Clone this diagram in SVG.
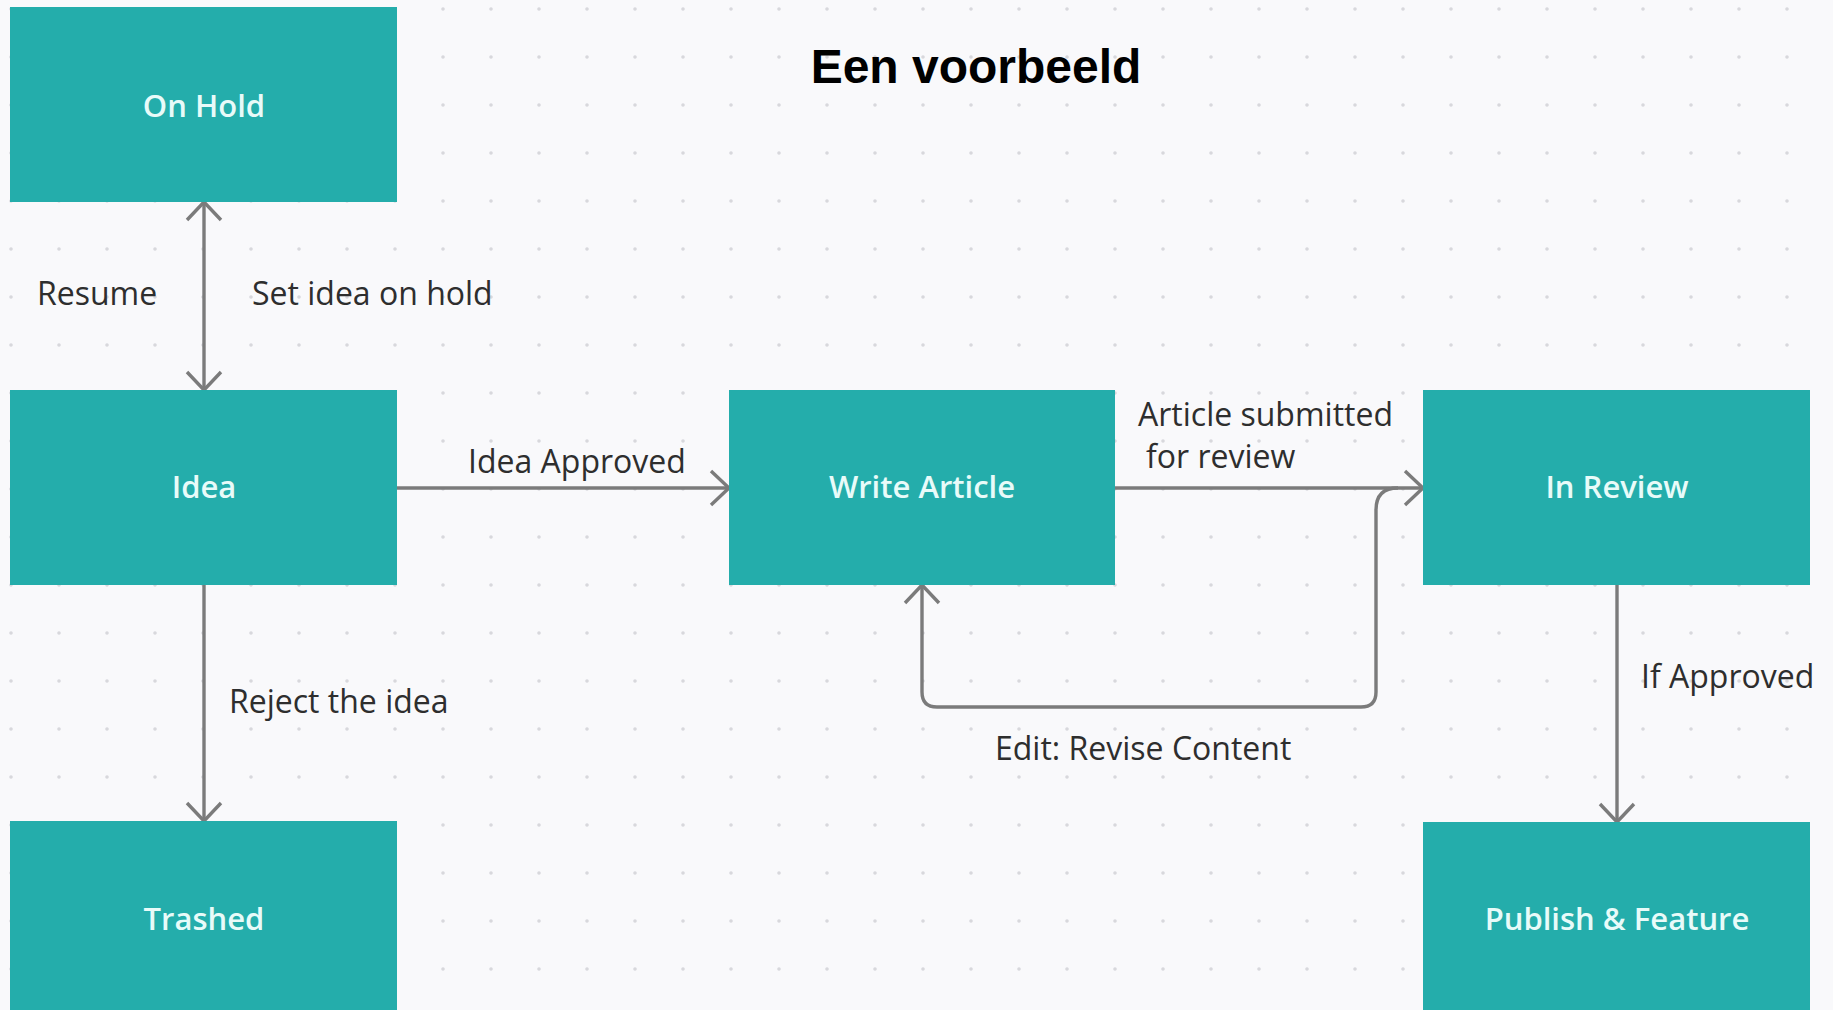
<svg xmlns="http://www.w3.org/2000/svg" width="1833" height="1010" viewBox="0 0 1833 1010">
<defs>
<pattern id="dots" x="11" y="9" width="48" height="48" patternUnits="userSpaceOnUse">
<circle cx="0" cy="0" r="1.8" fill="#d8d8dc"/>
<circle cx="48" cy="0" r="1.8" fill="#d8d8dc"/>
<circle cx="0" cy="48" r="1.8" fill="#d8d8dc"/>
<circle cx="48" cy="48" r="1.8" fill="#d8d8dc"/>
</pattern>
<marker id="arr" markerUnits="userSpaceOnUse" markerWidth="40" markerHeight="40" viewBox="-22 -20 26 40" refX="0" refY="0" orient="auto-start-reverse">
<path d="M -18 -17 L 0 0 L -18 17" fill="none" stroke="#7b7b7b" stroke-width="3.4"/>
</marker>
<style>
.node rect { fill: #24adab; }
.node text { font-family: "Open Sans", "Noto Sans", sans-serif; font-size: 31px; font-weight: 600; fill: #e8fbf9; text-anchor: middle; }
.lbl { font-family: "Open Sans", "Noto Sans", sans-serif; font-size: 32px; fill: #2e2e2e; }
.edge { fill: none; stroke: #7b7b7b; stroke-width: 3.4; }
</style>
</defs>
<rect x="0" y="0" width="1833" height="1010" fill="#f9f9fb"/>
<rect x="0" y="0" width="1833" height="1010" fill="url(#dots)"/>
<text x="976" y="83" font-family="Liberation Sans, Arial, sans-serif" font-size="48" font-weight="bold" fill="#000" text-anchor="middle">Een voorbeeld</text>

<g id="connectors">
<path class="edge" d="M 204 202 L 204 390" marker-start="url(#arr)" marker-end="url(#arr)"/>
<path class="edge" d="M 204 585 L 204 821" marker-end="url(#arr)"/>
<path class="edge" d="M 397 488 L 729 488" marker-end="url(#arr)"/>
<path class="edge" d="M 1115 488 L 1423 488" marker-end="url(#arr)"/>
<path class="edge" d="M 1617 585 L 1617 822" marker-end="url(#arr)"/>
<path class="edge" d="M 1398 488 Q 1376 488 1376 510 L 1376 692 Q 1376 707 1361 707 L 937 707 Q 922 707 922 692 L 922 585" marker-end="url(#arr)"/>
<text class="lbl" x="37" y="305">Resume</text>
<text class="lbl" x="252" y="305">Set idea on hold</text>
<text class="lbl" x="468" y="473">Idea Approved</text>
<text class="lbl" x="1138" y="426">Article submitted</text>
<text class="lbl" x="1146" y="468">for review</text>
<text class="lbl" x="229" y="713">Reject the idea</text>
<text class="lbl" x="995" y="760">Edit: Revise Content</text>
<text class="lbl" x="1641" y="688">If Approved</text>
</g>

<g id="node-onhold" class="node"><rect x="10" y="7" width="387" height="195"/><text x="204" y="117">On Hold</text></g>
<g id="node-idea" class="node"><rect x="10" y="390" width="387" height="195"/><text x="204" y="498">Idea</text></g>
<g id="node-trashed" class="node"><rect x="10" y="821" width="387" height="195"/><text x="204" y="930">Trashed</text></g>
<g id="node-write" class="node"><rect x="729" y="390" width="386" height="195"/><text x="922" y="498">Write Article</text></g>
<g id="node-review" class="node"><rect x="1423" y="390" width="387" height="195"/><text x="1617" y="498">In Review</text></g>
<g id="node-publish" class="node"><rect x="1423" y="822" width="387" height="195"/><text x="1617" y="930">Publish &amp; Feature</text></g>
</svg>
